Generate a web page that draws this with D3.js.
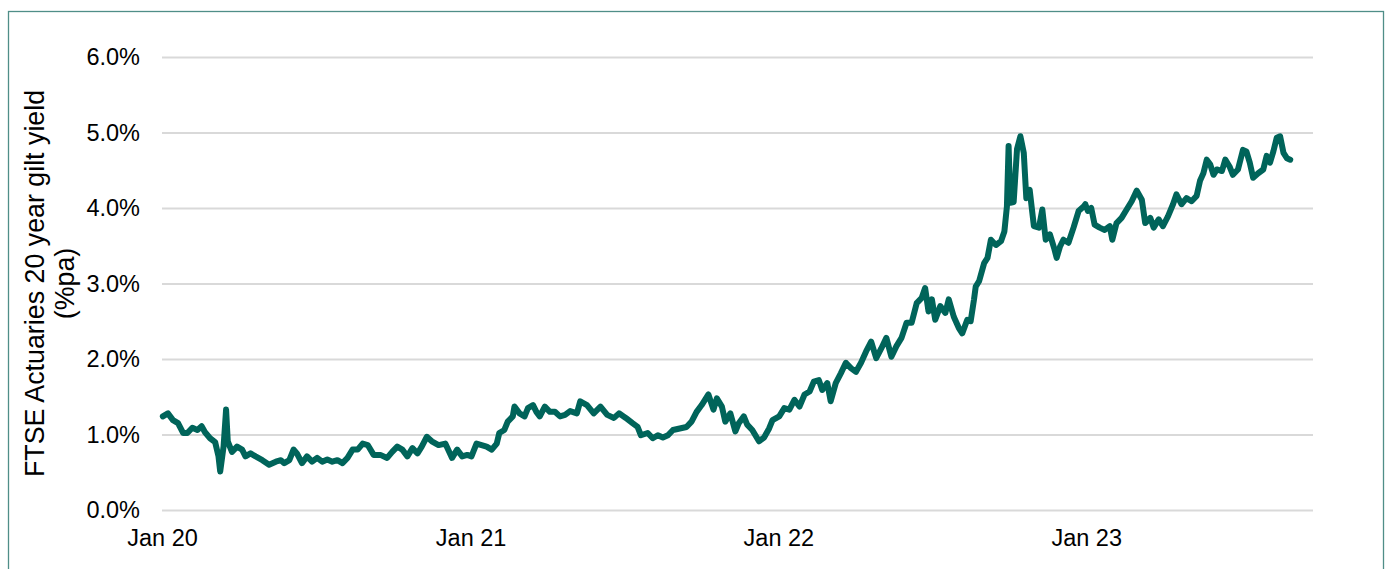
<!DOCTYPE html>
<html>
<head>
<meta charset="utf-8">
<script src="https://cdn.jsdelivr.net/npm/d3@7"></script>
<style>
  body { margin: 0; background: #fff; }
  svg { display: block; }
  text { font-family: "Liberation Sans", Arial, sans-serif; fill: #000; }
</style>
</head>
<body>
<svg id="chart" width="1387" height="569"></svg>
<script>
const obsDates = [
  "2020-01-02","2020-01-08","2020-01-14","2020-01-20","2020-01-26","2020-01-31","2020-02-06","2020-02-12",
  "2020-02-17","2020-02-21","2020-02-27","2020-03-04","2020-03-08","2020-03-10","2020-03-14","2020-03-17",
  "2020-03-19","2020-03-24","2020-03-30","2020-04-05","2020-04-09","2020-04-15","2020-04-21","2020-04-29",
  "2020-05-07","2020-05-15","2020-05-21","2020-05-25","2020-05-31","2020-06-05","2020-06-09","2020-06-15",
  "2020-06-21","2020-06-27","2020-07-03","2020-07-09","2020-07-15","2020-07-21","2020-07-27","2020-08-02",
  "2020-08-08","2020-08-14","2020-08-20","2020-08-26","2020-09-01","2020-09-08","2020-09-16","2020-09-24",
  "2020-09-30","2020-10-06","2020-10-12","2020-10-18","2020-10-24","2020-10-30","2020-11-04","2020-11-10",
  "2020-11-16","2020-11-24","2020-12-02","2020-12-10","2020-12-16","2020-12-22","2020-12-28","2021-01-02",
  "2021-01-08","2021-01-14","2021-01-20","2021-01-26","2021-02-01","2021-02-04","2021-02-10","2021-02-14",
  "2021-02-20","2021-02-22","2021-02-28","2021-03-06","2021-03-10","2021-03-16","2021-03-20","2021-03-24",
  "2021-03-30","2021-04-05","2021-04-11","2021-04-17","2021-04-23","2021-04-29","2021-05-07","2021-05-11",
  "2021-05-19","2021-05-27","2021-06-04","2021-06-12","2021-06-20","2021-06-26","2021-07-04","2021-07-12",
  "2021-07-18","2021-07-22","2021-07-30","2021-08-05","2021-08-11","2021-08-17","2021-08-23","2021-08-29",
  "2021-09-06","2021-09-14","2021-09-20","2021-09-26","2021-10-02","2021-10-10","2021-10-16","2021-10-20",
  "2021-10-26","2021-10-30","2021-11-05","2021-11-11","2021-11-15","2021-11-21","2021-11-25","2021-12-01",
  "2021-12-09","2021-12-15","2021-12-21","2021-12-25","2022-01-02","2022-01-08","2022-01-14","2022-01-20",
  "2022-01-26","2022-02-01","2022-02-07","2022-02-12","2022-02-18","2022-02-22","2022-02-28","2022-03-04",
  "2022-03-10","2022-03-16","2022-03-22","2022-03-28","2022-04-03","2022-04-09","2022-04-15","2022-04-21",
  "2022-04-27","2022-05-03","2022-05-09","2022-05-15","2022-05-21","2022-05-27","2022-06-02","2022-06-08",
  "2022-06-14","2022-06-20","2022-06-24","2022-06-28","2022-07-02","2022-07-06","2022-07-12","2022-07-18",
  "2022-07-22","2022-07-28","2022-08-03","2022-08-07","2022-08-13","2022-08-17","2022-08-21","2022-08-23",
  "2022-08-27","2022-09-02","2022-09-06","2022-09-10","2022-09-16","2022-09-22","2022-09-26","2022-09-29",
  "2022-10-01","2022-10-03","2022-10-07","2022-10-11","2022-10-15","2022-10-19","2022-10-22","2022-10-26",
  "2022-10-31","2022-11-06","2022-11-10","2022-11-14","2022-11-19","2022-11-24","2022-11-27","2022-12-01",
  "2022-12-05","2022-12-11","2022-12-17","2022-12-23","2022-12-29","2022-12-31","2023-01-03","2023-01-07",
  "2023-01-11","2023-01-17","2023-01-23","2023-01-29","2023-02-01","2023-02-06","2023-02-12","2023-02-18",
  "2023-02-24","2023-03-02","2023-03-08","2023-03-12","2023-03-18","2023-03-22","2023-03-28","2023-04-02",
  "2023-04-08","2023-04-14","2023-04-18","2023-04-24","2023-04-30","2023-05-06","2023-05-12","2023-05-16",
  "2023-05-20","2023-05-24","2023-05-28","2023-06-01","2023-06-05","2023-06-11","2023-06-15","2023-06-20",
  "2023-06-24","2023-06-30","2023-07-06","2023-07-10","2023-07-14","2023-07-18","2023-07-24","2023-07-30",
  "2023-08-03","2023-08-07","2023-08-11","2023-08-15","2023-08-19","2023-08-23","2023-08-27","2023-08-31"
];

// FTSE Actuaries 20 year gilt yield, % pa
const gilt20Yield = [
  1.24,1.28,1.19,1.15,1.02,1.02,1.09,1.06,
  1.11,1.03,0.95,0.90,0.71,0.51,0.84,1.33,
  0.91,0.77,0.84,0.80,0.71,0.75,0.71,0.66,
  0.60,0.64,0.66,0.62,0.66,0.80,0.75,0.62,
  0.71,0.64,0.69,0.64,0.67,0.64,0.66,0.62,
  0.69,0.80,0.80,0.88,0.86,0.73,0.73,0.69,
  0.77,0.84,0.80,0.71,0.82,0.75,0.84,0.97,
  0.91,0.86,0.88,0.69,0.80,0.71,0.73,0.71,
  0.88,0.86,0.84,0.80,0.88,1.02,1.06,1.17,
  1.24,1.37,1.28,1.24,1.35,1.39,1.30,1.24,
  1.37,1.30,1.30,1.24,1.26,1.31,1.28,1.44,
  1.39,1.28,1.37,1.26,1.22,1.28,1.22,1.15,
  1.10,0.99,1.02,0.95,0.99,0.96,0.99,1.06,
  1.08,1.10,1.17,1.30,1.39,1.53,1.33,1.48,
  1.37,1.17,1.28,1.04,1.15,1.24,1.13,1.06,
  0.91,0.96,1.08,1.19,1.24,1.35,1.33,1.46,
  1.37,1.53,1.57,1.70,1.72,1.59,1.68,1.44,
  1.68,1.81,1.95,1.88,1.83,1.95,2.10,2.23,
  2.01,2.14,2.28,2.03,2.17,2.28,2.48,2.48,
  2.74,2.81,2.94,2.63,2.79,2.52,2.70,2.61,
  2.79,2.56,2.41,2.34,2.52,2.50,2.79,2.96,
  3.03,3.27,3.34,3.58,3.51,3.56,3.69,4.02,
  4.82,4.07,4.08,4.78,4.95,4.73,4.13,4.24,
  3.76,3.74,3.98,3.58,3.65,3.47,3.34,3.49,
  3.58,3.54,3.74,3.96,4.02,4.05,3.96,4.00,
  3.78,3.74,3.71,3.76,3.58,3.80,3.87,3.98,
  4.09,4.23,4.11,3.80,3.87,3.74,3.85,3.76,
  3.89,4.05,4.18,4.05,4.13,4.09,4.16,4.36,
  4.46,4.64,4.58,4.44,4.51,4.49,4.64,4.55,
  4.44,4.51,4.77,4.75,4.60,4.40,4.46,4.51,
  4.69,4.60,4.75,4.93,4.95,4.73,4.66,4.64
];

const yTicks = [0, 1, 2, 3, 4, 5, 6];
const xTickDates = ["2020-01-01", "2021-01-01", "2022-01-01", "2023-01-01"];
const xTickLabels = ["Jan 20", "Jan 21", "Jan 22", "Jan 23"];
const xDomain = ["2020-01-01", "2023-09-27"];
const yTitleLines = ["FTSE Actuaries 20 year gilt yield", "(%pa)"];

const parseDate = d3.timeParse("%Y-%m-%d");
const series = obsDates.map((d, i) => ({date: parseDate(d), value: gilt20Yield[i]}));

const svg = d3.select("#chart");
const margin = {left: 162, right: 74, top: 57, bottom: 59};
const W = 1387, H = 569;

// Outer frame
svg.append("rect")
  .attr("x", 8.5).attr("y", 11.5)
  .attr("width", 1375).attr("height", 600)
  .attr("fill", "none")
  .attr("stroke", "#4f8e88")
  .attr("stroke-width", 1.3);

const x = d3.scaleTime()
  .domain(xDomain.map(parseDate))
  .range([margin.left, W - margin.right]);

const y = d3.scaleLinear()
  .domain([0, 6])
  .range([H - margin.bottom, margin.top]);

// Gridlines + y labels via axis
const yAxis = d3.axisLeft(y)
  .tickValues(yTicks)
  .tickSize(-(W - margin.right - margin.left))
  .tickPadding(22)
  .tickFormat(d => d3.format(".1f")(d) + "%");

const gy = svg.append("g")
  .attr("transform", `translate(${margin.left},0)`)
  .call(yAxis);
gy.select(".domain").remove();
gy.selectAll(".tick line").attr("stroke", "#d9d9d9").attr("stroke-width", 1.8);
gy.selectAll(".tick text")
  .attr("font-size", "23.5px")
  .attr("font-family", "Liberation Sans, Arial, sans-serif")
  .attr("fill", "#000");

// X axis labels
const xAxis = d3.axisBottom(x)
  .tickValues(xTickDates.map(parseDate))
  .tickSize(0)
  .tickPadding(19)
  .tickFormat((d, i) => xTickLabels[i]);

const gx = svg.append("g")
  .attr("transform", `translate(0,${H - margin.bottom})`)
  .call(xAxis);
gx.select(".domain").remove();
gx.selectAll(".tick text")
  .attr("font-size", "23.5px")
  .attr("font-family", "Liberation Sans, Arial, sans-serif")
  .attr("fill", "#000");

// Y axis title (two lines, rotated)
const yMid = (margin.top + H - margin.bottom) / 2;
svg.append("text")
  .attr("transform", `translate(35,${yMid}) rotate(-90)`)
  .attr("text-anchor", "middle")
  .attr("dominant-baseline", "central")
  .attr("font-size", "26.8px")
  .text(yTitleLines[0]);
svg.append("text")
  .attr("transform", `translate(65,${yMid}) rotate(-90)`)
  .attr("text-anchor", "middle")
  .attr("dominant-baseline", "central")
  .attr("font-size", "26.8px")
  .text(yTitleLines[1]);

// The yield line
const line = d3.line()
  .x(d => x(d.date))
  .y(d => y(d.value));

svg.append("path")
  .datum(series)
  .attr("d", line)
  .attr("fill", "none")
  .attr("stroke", "#00645a")
  .attr("stroke-width", 6)
  .attr("stroke-linejoin", "round")
  .attr("stroke-linecap", "round");
</script>
</body>
</html>
